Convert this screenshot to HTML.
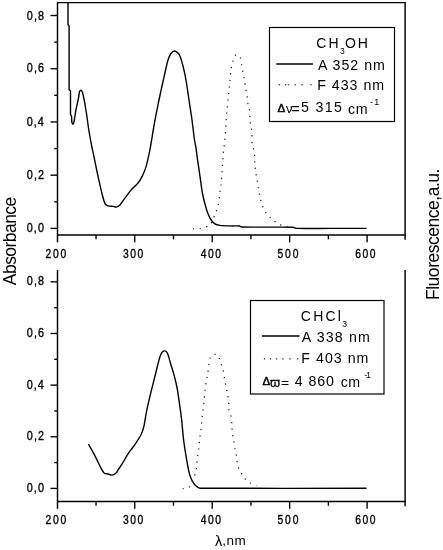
<!DOCTYPE html>
<html><head><meta charset="utf-8"><style>
html,body{margin:0;padding:0;background:#fff;width:443px;height:550px;overflow:hidden}
svg{display:block;will-change:transform}
text{font-family:"Liberation Sans",sans-serif}
</style></head><body>
<svg width="443" height="550" viewBox="0 0 443 550">
<rect width="443" height="550" fill="#fff"/>
<path d="M57.5 2 V242.35000000000002" stroke="#000" stroke-width="1.45" fill="none"/>
<path d="M57 235.05 H405.8" stroke="#000" stroke-width="1.45" fill="none"/>
<path d="M405.1 2 V239.85000000000002" stroke="#000" stroke-width="1.45" fill="none"/>
<path d="M57 2.55 H405.8" stroke="#000" stroke-width="1.2" fill="none"/>
<path d="M96.03 235.05 V239.35000000000002" stroke="#000" stroke-width="1.35" fill="none"/>
<path d="M134.75 235.05 V242.35000000000002" stroke="#000" stroke-width="1.35" fill="none"/>
<path d="M173.47 235.05 V239.35000000000002" stroke="#000" stroke-width="1.35" fill="none"/>
<path d="M212.20 235.05 V242.35000000000002" stroke="#000" stroke-width="1.35" fill="none"/>
<path d="M250.93 235.05 V239.35000000000002" stroke="#000" stroke-width="1.35" fill="none"/>
<path d="M289.65 235.05 V242.35000000000002" stroke="#000" stroke-width="1.35" fill="none"/>
<path d="M328.38 235.05 V239.35000000000002" stroke="#000" stroke-width="1.35" fill="none"/>
<path d="M367.10 235.05 V242.35000000000002" stroke="#000" stroke-width="1.35" fill="none"/>
<path d="M50.5 228.40 H57.5" stroke="#000" stroke-width="1.35" fill="none"/>
<path d="M54.2 201.79 H57.5" stroke="#000" stroke-width="1.35" fill="none"/>
<path d="M50.5 175.18 H57.5" stroke="#000" stroke-width="1.35" fill="none"/>
<path d="M54.2 148.57 H57.5" stroke="#000" stroke-width="1.35" fill="none"/>
<path d="M50.5 121.96 H57.5" stroke="#000" stroke-width="1.35" fill="none"/>
<path d="M54.2 95.35 H57.5" stroke="#000" stroke-width="1.35" fill="none"/>
<path d="M50.5 68.74 H57.5" stroke="#000" stroke-width="1.35" fill="none"/>
<path d="M54.2 42.13 H57.5" stroke="#000" stroke-width="1.35" fill="none"/>
<path d="M50.5 15.52 H57.5" stroke="#000" stroke-width="1.35" fill="none"/>
<path d="M57.5 270 V508.8" stroke="#000" stroke-width="1.45" fill="none"/>
<path d="M57 501.5 H405.8" stroke="#000" stroke-width="1.45" fill="none"/>
<path d="M405.1 270 V506.3" stroke="#000" stroke-width="1.45" fill="none"/>
<path d="M96.03 501.5 V505.8" stroke="#000" stroke-width="1.35" fill="none"/>
<path d="M134.75 501.5 V508.8" stroke="#000" stroke-width="1.35" fill="none"/>
<path d="M173.47 501.5 V505.8" stroke="#000" stroke-width="1.35" fill="none"/>
<path d="M212.20 501.5 V508.8" stroke="#000" stroke-width="1.35" fill="none"/>
<path d="M250.93 501.5 V505.8" stroke="#000" stroke-width="1.35" fill="none"/>
<path d="M289.65 501.5 V508.8" stroke="#000" stroke-width="1.35" fill="none"/>
<path d="M328.38 501.5 V505.8" stroke="#000" stroke-width="1.35" fill="none"/>
<path d="M367.10 501.5 V508.8" stroke="#000" stroke-width="1.35" fill="none"/>
<path d="M50.5 488.40 H57.5" stroke="#000" stroke-width="1.35" fill="none"/>
<path d="M54.2 462.58 H57.5" stroke="#000" stroke-width="1.35" fill="none"/>
<path d="M50.5 436.76 H57.5" stroke="#000" stroke-width="1.35" fill="none"/>
<path d="M54.2 410.94 H57.5" stroke="#000" stroke-width="1.35" fill="none"/>
<path d="M50.5 385.12 H57.5" stroke="#000" stroke-width="1.35" fill="none"/>
<path d="M54.2 359.30 H57.5" stroke="#000" stroke-width="1.35" fill="none"/>
<path d="M50.5 333.48 H57.5" stroke="#000" stroke-width="1.35" fill="none"/>
<path d="M54.2 307.66 H57.5" stroke="#000" stroke-width="1.35" fill="none"/>
<path d="M50.5 281.84 H57.5" stroke="#000" stroke-width="1.35" fill="none"/>
<path d="M68.0 2.5 L68.0 24.7 L69.1 25.8 L69.1 89.5 L70.5 91.0 L70.5 114.5  C70.68 114.82 71.47 115.68 71.60 116.40 C71.82 117.62 71.53 120.52 71.80 121.80 C71.98 122.68 72.75 124.55 73.20 124.10 C73.65 123.65 74.18 120.79 74.50 119.10 C74.95 116.75 75.43 112.58 75.90 110.00 C76.29 107.85 76.85 105.65 77.30 103.60 C77.73 101.63 78.23 99.67 78.60 97.70 C78.96 95.74 79.08 93.03 79.50 91.80 C79.73 91.11 80.60 90.18 81.10 90.30 C81.60 90.42 82.23 91.68 82.50 92.50 C82.98 93.95 83.56 96.82 84.00 99.00 C84.50 101.50 85.03 104.66 85.50 107.50 C86.00 110.50 86.54 113.83 87.00 117.00 C87.50 120.42 88.00 124.67 88.50 128.00 C88.95 131.01 89.46 134.01 90.00 137.00 C90.62 140.42 91.62 145.60 92.20 148.50 C92.60 150.47 93.09 152.43 93.50 154.40 C94.47 159.00 96.48 169.17 98.00 176.10 C99.45 182.75 101.38 191.33 102.60 196.00 C103.32 198.75 104.40 202.45 105.30 204.10 C105.82 205.05 106.96 205.60 108.00 205.90 C109.35 206.28 112.05 206.20 113.40 206.40 C114.32 206.54 115.18 207.26 116.10 207.10 C117.15 206.92 118.77 206.26 119.70 205.30 C121.20 203.75 123.26 200.27 125.10 197.80 C127.05 195.18 129.28 192.02 131.40 189.60 C133.37 187.35 135.98 185.55 137.80 183.30 C139.58 181.10 141.03 178.63 142.30 176.10 C143.65 173.40 144.92 170.18 145.90 167.10 C146.95 163.78 147.85 159.52 148.60 156.20 C149.27 153.22 149.87 150.21 150.40 147.20 C151.47 141.17 153.57 127.87 155.00 120.00 C156.22 113.31 157.83 105.67 159.00 100.00 C159.96 95.33 160.97 90.66 162.00 86.00 C163.10 81.00 164.60 74.33 165.60 70.00 C166.37 66.66 167.10 62.75 168.00 60.00 C168.74 57.73 169.90 55.00 171.00 53.50 C171.86 52.32 173.43 51.08 174.60 51.00 C175.77 50.92 177.10 52.17 178.00 53.00 C178.88 53.82 179.57 54.88 180.00 56.00 C180.83 58.17 182.16 62.62 183.00 66.00 C184.00 70.00 185.17 75.30 186.00 80.00 C187.00 85.67 188.00 93.33 189.00 100.00 C190.00 106.67 191.08 113.33 192.00 120.00 C192.92 126.66 193.83 135.33 194.50 140.00 C194.88 142.69 195.59 145.32 196.00 148.00 C196.47 151.03 196.82 154.81 197.30 158.20 C197.97 162.93 199.10 170.35 200.00 176.40 C200.90 182.43 201.63 189.05 202.70 194.50 C203.66 199.43 205.18 205.15 206.40 209.10 C207.36 212.22 208.65 215.78 210.00 218.20 C211.14 220.25 212.83 222.40 214.50 223.60 C216.07 224.73 218.09 225.12 220.00 225.40 C222.58 225.78 226.75 225.80 230.00 225.90 C233.17 226.00 237.58 225.82 239.50 226.00 C240.24 226.07 240.76 226.97 241.50 227.00 C245.75 227.18 257.17 227.07 265.00 227.10 C273.58 227.13 287.67 226.98 293.00 227.20 C294.39 227.26 295.61 228.35 297.00 228.40 C303.17 228.60 319.00 228.40 330.00 228.40 C341.58 228.40 360.42 228.40 366.50 228.40" stroke="#000" stroke-width="1.4" fill="none" stroke-linejoin="round"/>
<path d="M193.10 228.70 C194.25 228.70 197.74 229.15 200.00 228.70 C202.67 228.17 207.03 226.80 209.10 225.50 C210.70 224.50 211.56 222.59 212.40 220.90 C213.47 218.77 214.60 214.92 215.50 212.70 C216.20 210.97 217.39 209.42 217.80 207.60 C218.48 204.57 219.08 198.18 219.60 194.50 C220.02 191.50 220.59 188.52 220.90 185.50 C221.33 181.25 221.80 174.32 222.20 169.00 C222.59 163.87 222.84 158.73 223.30 153.60 C223.77 148.43 224.55 143.21 225.00 138.00 C225.45 132.73 225.67 126.67 226.00 122.00 C226.29 118.00 226.63 114.00 227.00 110.00 C227.43 105.33 228.10 99.00 228.60 94.00 C229.07 89.33 229.60 84.00 230.00 80.00 C230.33 76.67 230.57 72.90 231.00 70.00 C231.37 67.50 231.93 65.00 232.60 62.60 C233.26 60.22 234.18 56.87 235.00 55.60 C235.46 54.88 236.67 54.77 237.50 55.00 C238.33 55.23 239.56 56.03 240.00 57.00 C240.68 58.50 241.16 61.65 241.60 64.00 C242.10 66.67 242.53 70.40 243.00 73.00 C243.40 75.21 244.03 77.38 244.40 79.60 C244.83 82.20 245.17 86.03 245.60 88.60 C245.96 90.75 246.67 92.84 247.00 95.00 C247.40 97.63 247.57 101.73 248.00 104.40 C248.36 106.63 249.31 108.75 249.60 111.00 C249.93 113.60 249.77 117.40 250.00 120.00 C250.20 122.22 250.67 124.43 251.00 126.60 C251.33 128.73 251.86 130.85 252.00 133.00 C252.17 135.57 251.73 139.38 252.00 142.00 C252.23 144.28 253.19 146.44 253.60 148.70 C254.07 151.30 254.60 154.98 254.80 157.60 C254.97 159.86 254.64 162.14 254.80 164.40 C254.98 167.05 255.52 170.93 255.90 173.50 C256.22 175.61 256.71 177.70 257.10 179.80 C257.52 182.05 257.98 184.60 258.40 187.00 C258.87 189.65 259.42 193.15 259.90 195.70 C260.32 197.91 260.62 200.16 261.30 202.30 C262.13 204.92 263.40 208.83 264.90 211.40 C266.30 213.79 268.97 216.20 270.30 217.70 C271.13 218.63 271.87 219.69 272.90 220.40 C274.42 221.45 277.82 223.10 279.40 224.00 C280.41 224.58 281.28 225.49 282.40 225.80 C284.50 226.38 290.40 227.22 292.00 227.50" stroke="#222" stroke-width="1.25" fill="none" stroke-dasharray="1.25 5.3"/>
<path d="M88.50 444.10 C88.97 444.95 90.37 447.50 91.30 449.20 C92.33 451.08 93.61 453.31 94.70 455.40 C95.83 457.57 96.98 459.95 98.10 462.20 C99.21 464.43 100.37 467.07 101.40 468.90 C102.25 470.41 103.17 472.35 104.30 473.20 C105.36 474.00 106.98 473.68 108.20 474.00 C109.35 474.30 110.41 475.18 111.60 475.10 C112.83 475.02 114.49 474.41 115.60 473.50 C116.73 472.57 117.49 470.85 118.40 469.50 C119.62 467.70 121.48 465.02 122.90 462.70 C124.40 460.25 126.27 456.68 127.40 454.80 C128.11 453.63 128.88 452.50 129.70 451.40 C130.77 449.97 132.57 448.03 133.80 446.20 C135.70 443.38 139.40 437.90 141.10 434.50 C142.47 431.77 143.29 428.77 144.00 425.80 C144.87 422.17 145.43 417.05 146.30 412.70 C147.22 408.10 148.37 403.02 149.50 398.20 C150.63 393.35 152.02 387.97 153.10 383.60 C154.06 379.73 155.03 375.87 156.00 372.00 C156.97 368.13 158.13 363.23 158.90 360.40 C159.39 358.58 160.00 356.43 160.60 355.00 C161.08 353.86 161.82 352.48 162.50 351.80 C163.06 351.24 164.02 350.88 164.70 350.90 C165.38 350.92 166.16 351.34 166.60 351.90 C167.20 352.67 167.87 354.24 168.30 355.50 C168.95 357.40 169.74 360.71 170.50 363.30 C171.48 366.65 173.10 371.48 174.20 375.60 C175.30 379.70 176.31 383.83 177.10 388.00 C177.95 392.48 178.60 397.66 179.30 402.50 C180.03 407.58 180.89 413.15 181.50 418.50 C182.22 424.75 182.78 433.38 183.60 440.00 C184.35 446.09 185.48 452.75 186.40 458.20 C187.22 463.05 188.20 469.07 189.10 472.70 C189.72 475.22 190.73 477.87 191.80 480.00 C192.79 481.98 194.13 484.13 195.50 485.50 C196.74 486.74 198.25 488.17 200.00 488.20 C228.50 488.65 338.75 488.20 366.50 488.20" stroke="#000" stroke-width="1.4" fill="none" stroke-linejoin="round"/>
<path d="M182.70 488.70 C183.77 488.47 187.63 488.30 189.10 487.30 C190.53 486.33 190.81 484.29 191.50 482.70 C192.62 480.12 194.87 475.59 195.80 471.80 C196.77 467.85 196.82 462.80 197.30 459.00 C197.72 455.66 198.30 452.34 198.70 449.00 C199.15 445.23 199.57 440.08 200.00 436.40 C200.37 433.23 200.96 430.08 201.30 426.90 C201.75 422.72 202.27 415.38 202.70 411.30 C203.02 408.32 203.57 405.37 203.90 402.40 C204.32 398.68 204.77 392.72 205.20 389.00 C205.55 386.02 206.08 382.65 206.50 380.10 C206.85 377.96 207.36 375.84 207.70 373.70 C208.12 371.05 208.57 366.85 209.00 364.20 C209.35 362.05 209.47 359.42 210.30 357.80 C211.06 356.33 212.73 354.92 214.00 354.50 C215.26 354.09 217.12 354.23 217.90 355.30 C219.08 356.92 220.20 361.60 221.10 364.20 C221.87 366.42 222.78 368.61 223.30 370.90 C223.90 373.55 224.27 377.50 224.70 380.10 C225.06 382.24 225.48 384.38 225.90 386.50 C226.31 388.60 226.83 390.69 227.20 392.80 C227.67 395.45 228.45 399.75 228.70 402.40 C228.90 404.49 228.35 406.63 228.70 408.70 C229.13 411.27 230.84 414.68 231.30 417.80 C231.92 421.95 232.02 429.90 232.40 433.60 C232.62 435.76 233.23 437.86 233.60 440.00 C234.05 442.58 234.63 446.47 235.10 449.10 C235.50 451.34 236.04 453.55 236.40 455.80 C236.85 458.58 237.13 463.18 237.80 465.80 C238.32 467.82 239.42 469.66 240.40 471.50 C241.47 473.50 243.12 476.30 244.20 477.80 C244.95 478.83 245.93 479.68 246.90 480.50 C247.87 481.32 248.91 482.05 250.00 482.70 C251.12 483.37 252.53 483.98 253.60 484.50 C254.53 484.95 255.93 485.58 256.40 485.80" stroke="#222" stroke-width="1.25" fill="none" stroke-dasharray="1.25 5.3"/>
<rect x="269.5" y="27.5" width="125" height="94" stroke="#000" stroke-width="1.2" fill="#fff"/>
<path d="M276.3 64 H312.9" stroke="#000" stroke-width="1.3"/>
<rect x="278.7" y="84.1" width="1.3" height="1.3" fill="#333"/>
<rect x="284.9" y="84.1" width="1.3" height="1.3" fill="#333"/>
<rect x="287.8" y="84.1" width="1.3" height="1.3" fill="#333"/>
<rect x="294.5" y="84.1" width="1.3" height="1.3" fill="#333"/>
<rect x="301.3" y="84.1" width="1.3" height="1.3" fill="#333"/>
<rect x="310.3" y="84.1" width="1.3" height="1.3" fill="#333"/>
<rect x="250.5" y="300.5" width="133.5" height="93.5" stroke="#000" stroke-width="1.2" fill="#fff"/>
<path d="M262 336 H299.5" stroke="#000" stroke-width="1.3"/>
<rect x="263.9" y="358.2" width="1.3" height="1.3" fill="#333"/>
<rect x="269.9" y="358.2" width="1.3" height="1.3" fill="#333"/>
<rect x="275.9" y="358.2" width="1.3" height="1.3" fill="#333"/>
<rect x="282.4" y="358.2" width="1.3" height="1.3" fill="#333"/>
<rect x="289.4" y="358.2" width="1.3" height="1.3" fill="#333"/>
<rect x="296.9" y="358.2" width="1.3" height="1.3" fill="#333"/>
<text x="31.12" y="232.19" transform="scale(0.86 1)" font-family="Liberation Sans" font-size="12.6" font-weight="normal" textLength="19.98" lengthAdjust="spacing" fill="#000" stroke="#000" stroke-width="0.35">0,0</text>
<text x="31.12" y="492.19" transform="scale(0.86 1)" font-family="Liberation Sans" font-size="12.6" font-weight="normal" textLength="19.98" lengthAdjust="spacing" fill="#000" stroke="#000" stroke-width="0.35">0,0</text>
<text x="31.12" y="178.61" transform="scale(0.86 1)" font-family="Liberation Sans" font-size="12.6" font-weight="normal" textLength="20.09" lengthAdjust="spacing" fill="#000" stroke="#000" stroke-width="0.35">0,2</text>
<text x="31.12" y="440.23" transform="scale(0.86 1)" font-family="Liberation Sans" font-size="12.6" font-weight="normal" textLength="20.09" lengthAdjust="spacing" fill="#000" stroke="#000" stroke-width="0.35">0,2</text>
<text x="31.12" y="126.08" transform="scale(0.86 1)" font-family="Liberation Sans" font-size="12.6" font-weight="normal" textLength="19.80" lengthAdjust="spacing" fill="#000" stroke="#000" stroke-width="0.35">0,4</text>
<text x="31.12" y="389.32" transform="scale(0.86 1)" font-family="Liberation Sans" font-size="12.6" font-weight="normal" textLength="19.80" lengthAdjust="spacing" fill="#000" stroke="#000" stroke-width="0.35">0,4</text>
<text x="31.12" y="72.45" transform="scale(0.86 1)" font-family="Liberation Sans" font-size="12.6" font-weight="normal" textLength="20.08" lengthAdjust="spacing" fill="#000" stroke="#000" stroke-width="0.35">0,6</text>
<text x="31.12" y="337.31" transform="scale(0.86 1)" font-family="Liberation Sans" font-size="12.6" font-weight="normal" textLength="20.08" lengthAdjust="spacing" fill="#000" stroke="#000" stroke-width="0.35">0,6</text>
<text x="31.12" y="19.87" transform="scale(0.86 1)" font-family="Liberation Sans" font-size="12.6" font-weight="normal" textLength="20.08" lengthAdjust="spacing" fill="#000" stroke="#000" stroke-width="0.35">0,8</text>
<text x="31.12" y="285.35" transform="scale(0.86 1)" font-family="Liberation Sans" font-size="12.6" font-weight="normal" textLength="20.08" lengthAdjust="spacing" fill="#000" stroke="#000" stroke-width="0.35">0,8</text>
<text x="52.98" y="257.75" transform="scale(0.86 1)" font-family="Liberation Sans" font-size="12.0" font-weight="normal" textLength="24.08" lengthAdjust="spacing" fill="#000" stroke="#000" stroke-width="0.35">200</text>
<text x="52.98" y="523.75" transform="scale(0.86 1)" font-family="Liberation Sans" font-size="12.0" font-weight="normal" textLength="24.08" lengthAdjust="spacing" fill="#000" stroke="#000" stroke-width="0.35">200</text>
<text x="142.98" y="257.64" transform="scale(0.86 1)" font-family="Liberation Sans" font-size="12.0" font-weight="normal" textLength="23.51" lengthAdjust="spacing" fill="#000" stroke="#000" stroke-width="0.35">300</text>
<text x="142.98" y="523.64" transform="scale(0.86 1)" font-family="Liberation Sans" font-size="12.0" font-weight="normal" textLength="23.51" lengthAdjust="spacing" fill="#000" stroke="#000" stroke-width="0.35">300</text>
<text x="233.34" y="258.06" transform="scale(0.86 1)" font-family="Liberation Sans" font-size="12.0" font-weight="normal" textLength="23.76" lengthAdjust="spacing" fill="#000" stroke="#000" stroke-width="0.35">400</text>
<text x="233.34" y="524.06" transform="scale(0.86 1)" font-family="Liberation Sans" font-size="12.0" font-weight="normal" textLength="23.76" lengthAdjust="spacing" fill="#000" stroke="#000" stroke-width="0.35">400</text>
<text x="322.72" y="257.99" transform="scale(0.86 1)" font-family="Liberation Sans" font-size="12.0" font-weight="normal" textLength="24.27" lengthAdjust="spacing" fill="#000" stroke="#000" stroke-width="0.35">500</text>
<text x="322.72" y="523.99" transform="scale(0.86 1)" font-family="Liberation Sans" font-size="12.0" font-weight="normal" textLength="24.27" lengthAdjust="spacing" fill="#000" stroke="#000" stroke-width="0.35">500</text>
<text x="413.12" y="257.58" transform="scale(0.86 1)" font-family="Liberation Sans" font-size="12.0" font-weight="normal" textLength="23.60" lengthAdjust="spacing" fill="#000" stroke="#000" stroke-width="0.35">600</text>
<text x="413.12" y="523.58" transform="scale(0.86 1)" font-family="Liberation Sans" font-size="12.0" font-weight="normal" textLength="23.60" lengthAdjust="spacing" fill="#000" stroke="#000" stroke-width="0.35">600</text>
<text x="316.24" y="48.08" font-family="Liberation Sans" font-size="14.0" font-weight="normal" textLength="22.27" lengthAdjust="spacing" fill="#000">CH</text>
<text x="340.12" y="54.36" font-family="Liberation Sans" font-size="8.5" font-weight="normal" fill="#000">3</text>
<text x="345.06" y="48.08" font-family="Liberation Sans" font-size="14.0" font-weight="normal" textLength="22.77" lengthAdjust="spacing" fill="#000">OH</text>
<text x="317.90" y="69.62" font-family="Liberation Sans" font-size="14.2" font-weight="normal" textLength="67.03" lengthAdjust="spacing" fill="#000">A 352 nm</text>
<text x="317.30" y="90.42" font-family="Liberation Sans" font-size="14.2" font-weight="normal" textLength="66.77" lengthAdjust="spacing" fill="#000">F 433 nm</text>
<text x="277.58" y="111.69" font-family="Liberation Serif" font-size="11.5" font-weight="normal" fill="#000" stroke="#000" stroke-width="0.5">&#916;</text>
<text x="286.09" y="112.56" font-family="Liberation Serif" font-size="13.0" font-weight="normal" fill="#000">&#957;</text>
<text x="291.40" y="113.62" font-family="Liberation Sans" font-size="14.2" font-weight="normal" fill="#000">=</text>
<text x="300.91" y="112.22" font-family="Liberation Sans" font-size="14.2" font-weight="normal" textLength="40.95" lengthAdjust="spacing" fill="#000">5 315</text>
<text x="347.92" y="114.22" font-family="Liberation Sans" font-size="14.2" font-weight="normal" textLength="19.60" lengthAdjust="spacing" fill="#000">cm</text>
<text x="369.93" y="105.08" font-family="Liberation Sans" font-size="9.0" font-weight="normal" textLength="9.37" lengthAdjust="spacing" fill="#000">-1</text>
<text x="300.80" y="321.48" font-family="Liberation Sans" font-size="14.0" font-weight="normal" textLength="40.19" lengthAdjust="spacing" fill="#000">CHCl</text>
<text x="342.14" y="326.52" font-family="Liberation Sans" font-size="8.5" font-weight="normal" fill="#000">3</text>
<text x="301.64" y="342.02" font-family="Liberation Sans" font-size="14.2" font-weight="normal" textLength="68.23" lengthAdjust="spacing" fill="#000">A 338 nm</text>
<text x="301.30" y="363.22" font-family="Liberation Sans" font-size="14.2" font-weight="normal" textLength="67.14" lengthAdjust="spacing" fill="#000">F 403 nm</text>
<text x="262.41" y="384.67" font-family="Liberation Serif" font-size="11.5" font-weight="normal" fill="#000" stroke="#000" stroke-width="0.5">&#916;</text>
<text x="269.98" y="387.11" font-family="Liberation Serif" font-size="13.0" font-weight="normal" textLength="18.93" lengthAdjust="spacing" fill="#000" stroke="#000" stroke-width="0.3">&#982;=</text>
<text x="294.87" y="385.62" font-family="Liberation Sans" font-size="14.2" font-weight="normal" textLength="39.08" lengthAdjust="spacing" fill="#000">4 860</text>
<text x="340.82" y="387.22" font-family="Liberation Sans" font-size="14.2" font-weight="normal" textLength="19.29" lengthAdjust="spacing" fill="#000">cm</text>
<text x="364.14" y="378.28" font-family="Liberation Sans" font-size="9.0" font-weight="normal" textLength="6.89" lengthAdjust="spacing" fill="#000">-1</text>
<text x="214.89" y="546.44" font-family="Liberation Serif" font-size="14.5" font-weight="normal" fill="#000">&#955;</text>
<text x="222.23" y="544.62" font-family="Liberation Sans" font-size="13.5" font-weight="normal" textLength="23.41" lengthAdjust="spacing" fill="#000">,nm</text>
<text transform="translate(15.8 285.2) rotate(-90)" font-family="Liberation Sans" font-size="17.5" textLength="88.5" lengthAdjust="spacing" fill="#000">Absorbance</text>
<text transform="translate(438.6 300.0) rotate(-90)" font-family="Liberation Sans" font-size="17.5" textLength="131.5" lengthAdjust="spacing" fill="#000">Fluorescence,a.u.</text>
</svg>
</body></html>
